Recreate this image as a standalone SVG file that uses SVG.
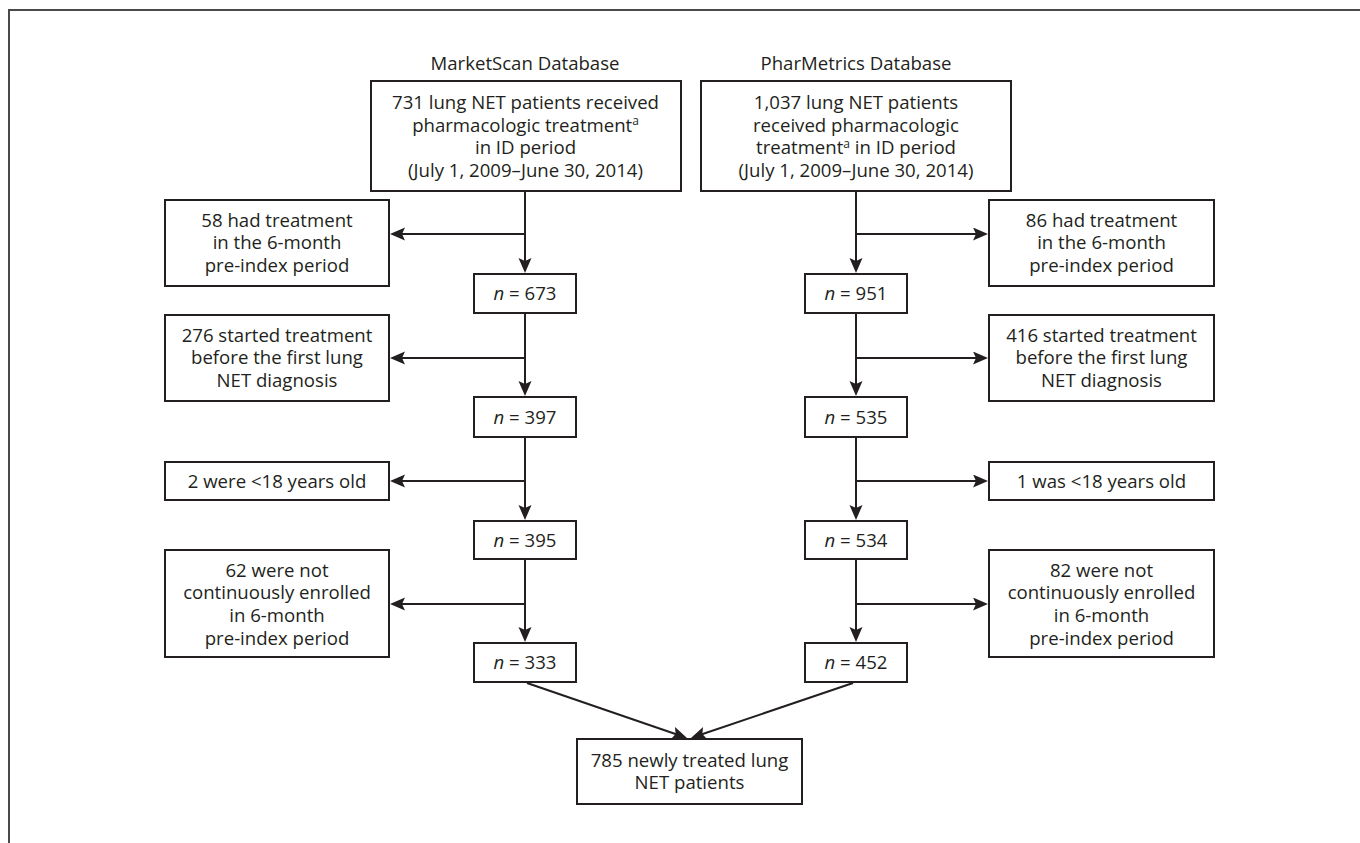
<svg xmlns="http://www.w3.org/2000/svg" width="1360" height="843" viewBox="0 0 1360 843">
<style>
.bx{fill:#fff;stroke:#231f20;stroke-width:2}
.t{font-family:"Open Sans","Noto Sans","DejaVu Sans",sans-serif;font-size:18.6px;fill:#231f20;text-anchor:middle}
.c{fill:none;stroke:#231f20;stroke-width:2}
.frame{fill:none;stroke:#4a4a4a;stroke-width:2}
.sup{font-size:12px}
</style>
<defs>
<marker id="ah" markerUnits="userSpaceOnUse" markerWidth="16" markerHeight="14" refX="12" refY="6.5" orient="auto">
<path d="M0,0 L15,6.5 L0,13 L3,6.5 Z" fill="#231f20"/>
</marker>
</defs>
<rect width="1360" height="843" fill="#fff"/>
<path class="frame" d="M9,843 L9,10 L1360,10"/>

<g id="headers">
<text class="t" x="525" y="70">MarketScan Database</text>
<text class="t" x="856" y="70">PharMetrics Database</text>
</g>

<g id="connectors">
<line class="c" x1="525" y1="191" x2="525" y2="270" marker-end="url(#ah)"/>
<line class="c" x1="525" y1="234" x2="393" y2="234" marker-end="url(#ah)"/>
<line class="c" x1="525" y1="313" x2="525" y2="393" marker-end="url(#ah)"/>
<line class="c" x1="525" y1="358" x2="393" y2="358" marker-end="url(#ah)"/>
<line class="c" x1="525" y1="437" x2="525" y2="517" marker-end="url(#ah)"/>
<line class="c" x1="525" y1="481" x2="393" y2="481" marker-end="url(#ah)"/>
<line class="c" x1="525" y1="559" x2="525" y2="639" marker-end="url(#ah)"/>
<line class="c" x1="525" y1="604" x2="393" y2="604" marker-end="url(#ah)"/>

<line class="c" x1="856" y1="191" x2="856" y2="270" marker-end="url(#ah)"/>
<line class="c" x1="856" y1="234" x2="985" y2="234" marker-end="url(#ah)"/>
<line class="c" x1="856" y1="313" x2="856" y2="393" marker-end="url(#ah)"/>
<line class="c" x1="856" y1="358" x2="985" y2="358" marker-end="url(#ah)"/>
<line class="c" x1="856" y1="437" x2="856" y2="517" marker-end="url(#ah)"/>
<line class="c" x1="856" y1="481" x2="985" y2="481" marker-end="url(#ah)"/>
<line class="c" x1="856" y1="559" x2="856" y2="639" marker-end="url(#ah)"/>
<line class="c" x1="856" y1="604" x2="985" y2="604" marker-end="url(#ah)"/>

<line class="c" x1="527" y1="683" x2="684.2" y2="737" marker-end="url(#ah)"/>
<line class="c" x1="853" y1="683" x2="693.8" y2="737" marker-end="url(#ah)"/>
</g>

<g id="ms-start">
<rect class="bx" x="371" y="81" width="310" height="110"/>
<text class="t" x="525.5"><tspan x="525.5" y="109">731 lung NET patients received</tspan><tspan x="525.5" y="131.7">pharmacologic treatment<tspan class="sup" dy="-6.5">a</tspan></tspan><tspan x="525.5" y="154.4">in ID period</tspan><tspan x="525.5" y="177.1">(July 1, 2009–June 30, 2014)</tspan></text>
</g>
<g id="pm-start">
<rect class="bx" x="701" y="81" width="310" height="110"/>
<text class="t" x="856"><tspan x="856" y="109">1,037 lung NET patients</tspan><tspan x="856" y="131.7">received pharmacologic</tspan><tspan x="856" y="154.4">treatment<tspan class="sup" dy="-6.5">a</tspan><tspan dy="6.5"> in ID period</tspan></tspan><tspan x="856" y="177.1">(July 1, 2009–June 30, 2014)</tspan></text>
</g>

<g id="ms-ex1">
<rect class="bx" x="165" y="200" width="224" height="86"/>
<text class="t"><tspan x="277" y="226.5">58 had treatment</tspan><tspan x="277" y="249.2">in the 6-month</tspan><tspan x="277" y="271.9">pre-index period</tspan></text>
</g>
<g id="ms-n1">
<rect class="bx" x="474" y="274" width="102" height="39"/>
<text class="t" x="525" y="300"><tspan font-style="italic">n</tspan> = 673</text>
</g>
<g id="ms-ex2">
<rect class="bx" x="165" y="315" width="224" height="86"/>
<text class="t"><tspan x="277" y="341.5">276 started treatment</tspan><tspan x="277" y="364.2">before the first lung</tspan><tspan x="277" y="386.9">NET diagnosis</tspan></text>
</g>
<g id="ms-n2">
<rect class="bx" x="474" y="397" width="102" height="40"/>
<text class="t" x="525" y="423.5"><tspan font-style="italic">n</tspan> = 397</text>
</g>
<g id="ms-ex3">
<rect class="bx" x="165" y="462" width="224" height="38"/>
<text class="t" x="277" y="487.6">2 were &lt;18 years old</text>
</g>
<g id="ms-n3">
<rect class="bx" x="474" y="521" width="102" height="38"/>
<text class="t" x="525" y="546.6"><tspan font-style="italic">n</tspan> = 395</text>
</g>
<g id="ms-ex4">
<rect class="bx" x="165" y="550" width="224" height="107"/>
<text class="t"><tspan x="277" y="576.5">62 were not</tspan><tspan x="277" y="599.2">continuously enrolled</tspan><tspan x="277" y="621.9">in 6-month</tspan><tspan x="277" y="644.6">pre-index period</tspan></text>
</g>
<g id="ms-n4">
<rect class="bx" x="474" y="643" width="102" height="39"/>
<text class="t" x="525" y="669"><tspan font-style="italic">n</tspan> = 333</text>
</g>

<g id="pm-ex1">
<rect class="bx" x="989" y="200" width="225" height="86"/>
<text class="t"><tspan x="1101.5" y="226.5">86 had treatment</tspan><tspan x="1101.5" y="249.2">in the 6-month</tspan><tspan x="1101.5" y="271.9">pre-index period</tspan></text>
</g>
<g id="pm-n1">
<rect class="bx" x="805" y="274" width="102" height="39"/>
<text class="t" x="856" y="300"><tspan font-style="italic">n</tspan> = 951</text>
</g>
<g id="pm-ex2">
<rect class="bx" x="989" y="315" width="225" height="86"/>
<text class="t"><tspan x="1101.5" y="341.5">416 started treatment</tspan><tspan x="1101.5" y="364.2">before the first lung</tspan><tspan x="1101.5" y="386.9">NET diagnosis</tspan></text>
</g>
<g id="pm-n2">
<rect class="bx" x="805" y="397" width="102" height="40"/>
<text class="t" x="856" y="423.5"><tspan font-style="italic">n</tspan> = 535</text>
</g>
<g id="pm-ex3">
<rect class="bx" x="989" y="462" width="225" height="38"/>
<text class="t" x="1101.5" y="487.6">1 was &lt;18 years old</text>
</g>
<g id="pm-n3">
<rect class="bx" x="805" y="521" width="102" height="38"/>
<text class="t" x="856" y="546.6"><tspan font-style="italic">n</tspan> = 534</text>
</g>
<g id="pm-ex4">
<rect class="bx" x="989" y="550" width="225" height="107"/>
<text class="t"><tspan x="1101.5" y="576.5">82 were not</tspan><tspan x="1101.5" y="599.2">continuously enrolled</tspan><tspan x="1101.5" y="621.9">in 6-month</tspan><tspan x="1101.5" y="644.6">pre-index period</tspan></text>
</g>
<g id="pm-n4">
<rect class="bx" x="805" y="643" width="102" height="39"/>
<text class="t" x="856" y="669"><tspan font-style="italic">n</tspan> = 452</text>
</g>

<g id="final">
<rect class="bx" x="577" y="739" width="225" height="65"/>
<text class="t"><tspan x="689.5" y="766.7">785 newly treated lung</tspan><tspan x="689.5" y="789.4">NET patients</tspan></text>
</g>
</svg>
